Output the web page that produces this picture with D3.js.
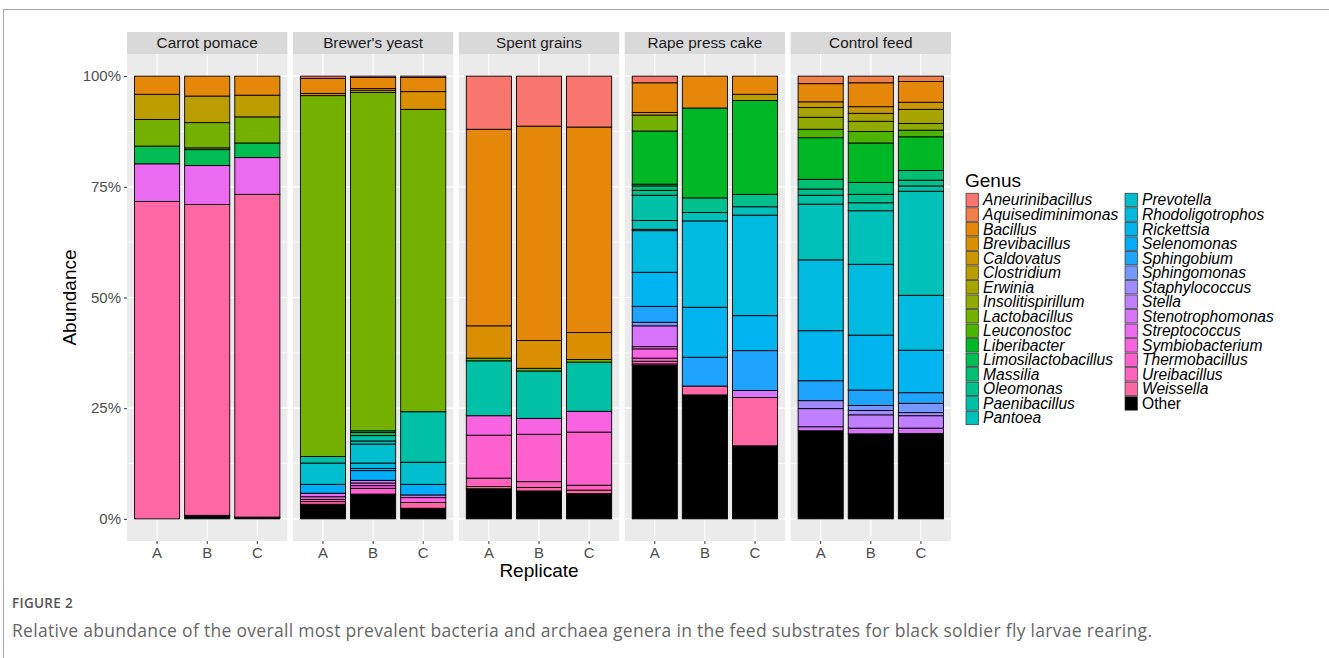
<!DOCTYPE html>
<html>
<head>
<meta charset="utf-8">
<script src="https://cdn.jsdelivr.net/npm/d3@7"></script>
<style>
  body { margin: 0; background: #fff; }
  svg text { font-family: "Liberation Sans", Arial, sans-serif; }
</style>
</head>
<body>
<script>
// genus levels, top of the stack first (ggplot order), "Other" at the bottom
const genera = [
  'Aneurinibacillus', 'Aquisediminimonas', 'Bacillus', 'Brevibacillus', 'Caldovatus',
  'Clostridium', 'Erwinia', 'Insolitispirillum', 'Lactobacillus', 'Leuconostoc',
  'Liberibacter', 'Limosilactobacillus', 'Massilia', 'Oleomonas', 'Paenibacillus',
  'Pantoea', 'Prevotella', 'Rhodoligotrophos', 'Rickettsia', 'Selenomonas',
  'Sphingobium', 'Sphingomonas', 'Staphylococcus', 'Stella', 'Stenotrophomonas',
  'Streptococcus', 'Symbiobacterium', 'Thermobacillus', 'Ureibacillus', 'Weissella', 'Other'
];
const replicates = ['A', 'B', 'C'];
const substrates = ['Carrot pomace', "Brewer's yeast", 'Spent grains', 'Rape press cake', 'Control feed'];
const yTicks = [0, 0.25, 0.5, 0.75, 1];

// [genus, A, B, C] relative abundance
const carrotPomace = [
  ['Bacillus', 0.041, 0.045, 0.043],
  ['Clostridium', 0.057, 0.060, 0.049],
  ['Lactobacillus', 0.060, 0.057, 0.059],
  ['Leuconostoc', 0, 0.004, 0],
  ['Limosilactobacillus', 0.040, 0.036, 0.033],
  ['Streptococcus', 0.085, 0.088, 0.083],
  ['Weissella', 0.717, 0.702, 0.729],
  ['Other', 0, 0.008, 0.004]
];
const brewersYeast = [
  ['Aneurinibacillus', 0.005, 0.003, 0.003],
  ['Bacillus', 0.034, 0.025, 0.032],
  ['Brevibacillus', 0.005, 0.004, 0.040],
  ['Caldovatus', 0, 0.005, 0],
  ['Lactobacillus', 0.815, 0.764, 0.683],
  ['Liberibacter', 0, 0.004, 0],
  ['Limosilactobacillus', 0, 0.007, 0],
  ['Paenibacillus', 0.015, 0.012, 0.114],
  ['Pantoea', 0, 0.007, 0],
  ['Prevotella', 0.048, 0.043, 0.050],
  ['Rhodoligotrophos', 0, 0.012, 0],
  ['Rickettsia', 0, 0.005, 0],
  ['Selenomonas', 0.020, 0.022, 0.024],
  ['Stenotrophomonas', 0, 0.006, 0],
  ['Streptococcus', 0.008, 0.006, 0.006],
  ['Symbiobacterium', 0.006, 0.006, 0.011],
  ['Thermobacillus', 0, 0.013, 0],
  ['Ureibacillus', 0.005, 0, 0],
  ['Weissella', 0.006, 0, 0.013],
  ['Other', 0.033, 0.056, 0.024]
];
const spentGrains = [
  ['Aneurinibacillus', 0.120, 0.113, 0.115],
  ['Bacillus', 0.444, 0.484, 0.464],
  ['Brevibacillus', 0.073, 0.063, 0.061],
  ['Lactobacillus', 0.006, 0.006, 0.006],
  ['Paenibacillus', 0.124, 0.107, 0.111],
  ['Symbiobacterium', 0.044, 0.036, 0.047],
  ['Thermobacillus', 0.097, 0.107, 0.120],
  ['Ureibacillus', 0.019, 0.013, 0.011],
  ['Weissella', 0.005, 0.008, 0.008],
  ['Other', 0.068, 0.063, 0.057]
];
const rapePressCake = [
  ['Aneurinibacillus', 0.015, 0, 0],
  ['Bacillus', 0.067, 0.072, 0.041],
  ['Brevibacillus', 0.006, 0, 0],
  ['Clostridium', 0, 0, 0.014],
  ['Lactobacillus', 0.036, 0, 0],
  ['Liberibacter', 0.120, 0.203, 0.212],
  ['Limosilactobacillus', 0.004, 0, 0],
  ['Massilia', 0.010, 0, 0],
  ['Oleomonas', 0.011, 0.033, 0.028],
  ['Paenibacillus', 0.057, 0, 0],
  ['Pantoea', 0.020, 0.019, 0.019],
  ['Prevotella', 0.003, 0, 0],
  ['Rhodoligotrophos', 0.094, 0.195, 0.227],
  ['Rickettsia', 0.077, 0.113, 0.079],
  ['Sphingobium', 0.036, 0.065, 0.090],
  ['Sphingomonas', 0.008, 0, 0],
  ['Stenotrophomonas', 0.047, 0, 0.016],
  ['Streptococcus', 0.005, 0, 0],
  ['Symbiobacterium', 0.021, 0, 0],
  ['Thermobacillus', 0.007, 0, 0],
  ['Ureibacillus', 0.006, 0, 0],
  ['Weissella', 0.003, 0.020, 0.109],
  ['Other', 0.347, 0.280, 0.165]
];
const controlFeed = [
  ['Aquisediminimonas', 0.017, 0.015, 0.012],
  ['Bacillus', 0.041, 0.054, 0.047],
  ['Caldovatus', 0.013, 0.015, 0.016],
  ['Erwinia', 0.022, 0.018, 0.032],
  ['Insolitispirillum', 0.027, 0.023, 0.015],
  ['Leuconostoc', 0.019, 0.026, 0.015],
  ['Liberibacter', 0.094, 0.089, 0.076],
  ['Massilia', 0.022, 0.027, 0.022],
  ['Oleomonas', 0.014, 0.019, 0.013],
  ['Paenibacillus', 0.020, 0.018, 0.012],
  ['Pantoea', 0.126, 0.121, 0.235],
  ['Rhodoligotrophos', 0.160, 0.160, 0.124],
  ['Rickettsia', 0.113, 0.124, 0.096],
  ['Sphingobium', 0.045, 0.035, 0.024],
  ['Sphingomonas', 0, 0.011, 0.021],
  ['Staphylococcus', 0.018, 0.010, 0.007],
  ['Stella', 0.041, 0.030, 0.028],
  ['Stenotrophomonas', 0.009, 0.013, 0.012],
  ['Other', 0.199, 0.192, 0.193]
];
const substrateData = [carrotPomace, brewersYeast, spentGrains, rapePressCake, controlFeed];

// ggplot2 hue_pal(): polar LUV -> sRGB, like grDevices::hcl
function hcl(h, c, l) {
  const hr = h * Math.PI / 180;
  const U = c * Math.cos(hr), V = c * Math.sin(hr);
  const Y = 100 * (l > 7.999592 ? Math.pow((l + 16) / 116, 3) : l / 903.3);
  const u = U / (13 * l) + 0.1978398, v = V / (13 * l) + 0.4683363;
  const X = 9 * Y * u / (4 * v);
  const Z = -X / 3 - 5 * Y + 3 * Y / v;
  const gt = t => {
    t /= 100;
    const s = t > 0.00304 ? 1.055 * Math.pow(t, 1 / 2.4) - 0.055 : 12.92 * t;
    return Math.round(255 * Math.max(0, Math.min(1, s)));
  };
  return d3.rgb(gt(3.240479 * X - 1.537150 * Y - 0.498535 * Z),
                gt(-0.969256 * X + 1.875992 * Y + 0.041556 * Z),
                gt(0.055648 * X - 0.204043 * Y + 1.057311 * Z)).formatHex();
}
const n = genera.length;
const colors = genera.map((g, i) => g === 'Other' ? '#000000' : hcl(15 + i * 360 / n, 100, 65));
const fill = d3.scaleOrdinal().domain(genera).range(colors);

const W = 1329, H = 658;
const panelLeft = 127, panelW = 160.4, panelGap = 5.5;
const stripTop = 32, panelTop = 54, panelBottom = 541;

const svg = d3.select('body').append('svg').attr('width', W).attr('height', H);

// figure card frame
svg.append('rect')
  .attr('x', 3.5).attr('y', 9.5).attr('width', W + 20).attr('height', H + 20)
  .attr('fill', 'none').attr('stroke', '#a8a8a8').attr('stroke-width', 1);

const fx = d3.scaleBand()
  .domain(substrates)
  .range([panelLeft, panelLeft + 5 * panelW + 4 * panelGap])
  .paddingInner(panelGap / (panelW + panelGap));

const x = d3.scaleBand()
  .domain(replicates)
  .range([0, fx.bandwidth()])
  .paddingInner(0.1)
  .paddingOuter(0.15);

const y = d3.scaleLinear().domain([-0.05, 1.05]).range([panelBottom, panelTop]);

const stack = d3.stack().keys(genera.slice().reverse());

substrates.forEach((s, i) => {
  const g = svg.append('g').attr('transform', `translate(${fx(s)},0)`);
  const bw = fx.bandwidth();

  g.append('rect')
    .attr('y', panelTop).attr('width', bw).attr('height', panelBottom - panelTop)
    .attr('fill', '#EBEBEB');

  g.selectAll('.minor')
    .data([0.125, 0.375, 0.625, 0.875])
    .enter().append('line')
      .attr('x1', 0).attr('x2', bw)
      .attr('y1', d => y(d)).attr('y2', d => y(d))
      .attr('stroke', '#fff').attr('stroke-width', 0.6);

  g.selectAll('.major')
    .data(yTicks)
    .enter().append('line')
      .attr('x1', 0).attr('x2', bw)
      .attr('y1', d => y(d)).attr('y2', d => y(d))
      .attr('stroke', '#fff').attr('stroke-width', 1.2);

  g.selectAll('.vmajor')
    .data(replicates)
    .enter().append('line')
      .attr('x1', d => x(d) + x.bandwidth() / 2).attr('x2', d => x(d) + x.bandwidth() / 2)
      .attr('y1', panelTop).attr('y2', panelBottom)
      .attr('stroke', '#fff').attr('stroke-width', 1.2);

  // strip
  g.append('rect')
    .attr('y', stripTop).attr('width', bw).attr('height', panelTop - stripTop)
    .attr('fill', '#D9D9D9');
  g.append('text')
    .attr('x', bw / 2).attr('y', (stripTop + panelTop) / 2)
    .attr('dy', '0.35em')
    .attr('text-anchor', 'middle')
    .attr('font-size', 15.3).attr('fill', '#1A1A1A')
    .text(s);

  // stacked bars
  const rows = replicates.map((r, j) => {
    const row = { replicate: r };
    genera.forEach(gn => row[gn] = 0);
    substrateData[i].forEach(([gn, ...vals]) => row[gn] = vals[j]);
    return row;
  });
  const layers = stack(rows);

  g.selectAll('.layer')
    .data(layers)
    .enter().append('g')
      .attr('fill', d => fill(d.key))
    .selectAll('rect')
    .data(d => d.filter(p => p[1] - p[0] > 0))
    .enter().append('rect')
      .attr('x', d => x(d.data.replicate))
      .attr('width', x.bandwidth())
      .attr('y', d => y(d[1]))
      .attr('height', d => y(d[0]) - y(d[1]))
      .attr('stroke', '#000').attr('stroke-width', 0.9);

  // x axis
  const xa = g.append('g')
    .attr('transform', `translate(0,${panelBottom})`)
    .call(d3.axisBottom(x).tickSize(3).tickPadding(3));
  xa.select('.domain').remove();
  xa.selectAll('line').attr('stroke', '#333');
  xa.selectAll('text').attr('font-size', 15).attr('fill', '#4D4D4D')
    .style('font-family', '"Liberation Sans", Arial, sans-serif');

  if (i === 0) {
    const ya = g.append('g')
      .call(d3.axisLeft(y).tickValues(yTicks).tickFormat(d3.format('.0%')).tickSize(3).tickPadding(3));
    ya.select('.domain').remove();
    ya.selectAll('line').attr('stroke', '#333');
    ya.selectAll('text').attr('font-size', 15).attr('fill', '#4D4D4D')
      .style('font-family', '"Liberation Sans", Arial, sans-serif');
  }
});

// axis titles
svg.append('text')
  .attr('transform', `translate(76,${(panelTop + panelBottom) / 2}) rotate(-90)`)
  .attr('text-anchor', 'middle')
  .attr('font-size', 19)
  .text('Abundance');

svg.append('text')
  .attr('x', panelLeft + (5 * panelW + 4 * panelGap) / 2).attr('y', 577)
  .attr('text-anchor', 'middle')
  .attr('font-size', 19)
  .text('Replicate');

// legend
const legend = svg.append('g').attr('transform', 'translate(965,0)');
legend.append('text')
  .attr('x', 0).attr('y', 187)
  .attr('font-size', 19)
  .text('Genus');

const perCol = 16, rowH = 14.53, colX = [0, 159];
const items = legend.selectAll('.item')
  .data(genera)
  .enter().append('g')
    .attr('transform', (d, i) => `translate(${colX[Math.floor(i / perCol)]},${200 + (i % perCol) * rowH})`);
items.append('rect')
  .attr('x', 1).attr('y', -rowH / 2 + 0.5)
  .attr('width', 12.5).attr('height', rowH - 1)
  .attr('fill', d => fill(d))
  .attr('stroke', '#333').attr('stroke-width', 0.7);
items.append('text')
  .attr('x', 18).attr('dy', '0.35em')
  .attr('font-size', 15.6)
  .attr('font-style', d => d === 'Other' ? 'normal' : 'italic')
  .text(d => d);

// caption
svg.append('text')
  .attr('x', 12).attr('y', 608)
  .attr('font-size', 13.5).attr('font-weight', 600)
  .attr('letter-spacing', 0.3)
  .attr('fill', '#555')
  .style('font-family', '"Open Sans", sans-serif')
  .text('FIGURE 2');

svg.append('text')
  .attr('x', 12).attr('y', 637)
  .attr('font-size', 17.5)
  .attr('letter-spacing', 0.3)
  .attr('fill', '#666')
  .style('font-family', '"Open Sans", sans-serif')
  .text('Relative abundance of the overall most prevalent bacteria and archaea genera in the feed substrates for black soldier fly larvae rearing.');
</script>
</body>
</html>
